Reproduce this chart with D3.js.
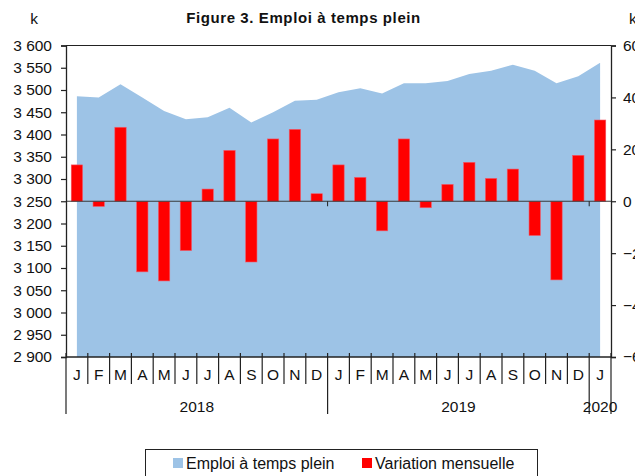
<!DOCTYPE html>
<html>
<head>
<meta charset="utf-8">
<script src="https://cdn.jsdelivr.net/npm/d3@7"></script>
<style>
  body { margin: 0; background: #fff; }
  svg { font-family: "Liberation Sans", Arial, sans-serif; }
</style>
</head>
<body>
<svg id="chart" width="635" height="476"></svg>
<script>
// monthly data, Jan 2018 -> Jan 2020
var months = ["J","F","M","A","M","J","J","A","S","O","N","D",
              "J","F","M","A","M","J","J","A","S","O","N","D","J"];
var years = ["2018", "2019", "2020"];
var yearCounts = [12, 12, 1];
var emploi = [3486, 3483, 3513, 3483, 3453, 3434, 3439, 3460, 3427, 3450, 3476, 3478,
              3495, 3504, 3492, 3515, 3515, 3520, 3536, 3543, 3557, 3543, 3515, 3531, 3561];
var variation = [14, -2, 28.5, -27.2, -30.7, -19, 4.7, 19.6, -23.4, 24, 27.7, 2.9,
                 14, 9.2, -11.4, 24, -2.5, 6.5, 15, 8.8, 12.4, -13.2, -30.3, 17.7, 31.3];
var leftTicks = d3.range(2900, 3601, 50);
var rightTicks = [-60, -40, -20, 0, 20, 40, 60];

var svg = d3.select("#chart");
var pLeft = 66, pRight = 611, pTop = 45.5, pBottom = 357;

var idx = d3.range(months.length);
var x = d3.scaleBand().domain(idx).range([pLeft, pRight]);
var xBar = d3.scaleBand().domain(idx).range([pLeft, pRight]).paddingInner(0.48).paddingOuter(0.24);
var yL = d3.scaleLinear().domain([2900, 3600]).range([pBottom, pTop]);
var yR = d3.scaleLinear().domain([-60, 60]).range([pBottom, pTop]);

var fr = d3.formatLocale({decimal: ",", thousands: "\u00a0", grouping: [3], currency: ["", " €"]});
var fmt = fr.format(",");

// area
var area = d3.area()
    .x(function(d, i) { return x(i) + x.bandwidth() / 2; })
    .y0(pBottom)
    .y1(function(d) { return yL(d); });

svg.append("path")
    .datum(emploi)
    .attr("d", area)
    .attr("fill", "#9dc3e6");

// bars
svg.selectAll(".bar")
    .data(variation)
    .enter().append("rect")
    .attr("class", "bar")
    .attr("x", function(d, i) { return xBar(i); })
    .attr("width", xBar.bandwidth())
    .attr("y", function(d) { return yR(Math.max(0, d)); })
    .attr("height", function(d) { return Math.abs(yR(d) - yR(0)); })
    .attr("fill", "#ff0000")
    .attr("stroke", "#f05a6a")
    .attr("stroke-width", 0.6);

// zero line with year ticks
svg.append("line")
    .attr("x1", pLeft).attr("x2", pRight)
    .attr("y1", yR(0)).attr("y2", yR(0))
    .attr("stroke", "#3a3a3a").attr("stroke-width", 1.2);

var yearStarts = [];
var acc = 0;
yearCounts.forEach(function(c) { yearStarts.push(acc); acc += c; });

svg.selectAll(".ztick")
    .data(yearStarts.slice(1))
    .enter().append("line")
    .attr("x1", function(d) { return x(d); })
    .attr("x2", function(d) { return x(d); })
    .attr("y1", yR(0)).attr("y2", yR(0) + 5)
    .attr("stroke", "#222");

// frame top
svg.append("line")
    .attr("x1", pLeft).attr("x2", pRight)
    .attr("y1", pTop).attr("y2", pTop)
    .attr("stroke", "#222").attr("stroke-width", 1);

// left axis
var gL = svg.append("g")
    .attr("transform", "translate(" + pLeft + ",0)")
    .call(d3.axisLeft(yL).tickValues(leftTicks).tickSize(5).tickPadding(9).tickFormat(fmt));

// right axis
var gR = svg.append("g")
    .attr("transform", "translate(" + pRight + ",0)")
    .call(d3.axisRight(yR).tickValues(rightTicks).tickSize(5).tickPadding(7));

[gL, gR].forEach(function(g) {
  g.select(".domain").attr("stroke", "#222").attr("stroke-width", 1.3);
  g.selectAll(".tick line").attr("stroke", "#222").attr("stroke-width", 1.2);
  g.selectAll("text").attr("font-size", 15.5).attr("fill", "#111").attr("font-family", "Liberation Sans, Arial, sans-serif");
});

// bottom axis
svg.append("line")
    .attr("x1", pLeft).attr("x2", pRight)
    .attr("y1", pBottom).attr("y2", pBottom)
    .attr("stroke", "#222").attr("stroke-width", 1.3);

var bounds = d3.range(months.length + 1);
svg.selectAll(".mtick")
    .data(bounds)
    .enter().append("line")
    .attr("x1", function(d) { return pLeft + d * x.step(); })
    .attr("x2", function(d) { return pLeft + d * x.step(); })
    .attr("y1", pBottom - 4)
    .attr("y2", function(d) {
      return (yearStarts.indexOf(d) >= 0 || d === months.length) ? 414 : 384;
    })
    .attr("stroke", "#222").attr("stroke-width", 1.2);

svg.selectAll(".mlab")
    .data(months)
    .enter().append("text")
    .attr("x", function(d, i) { return x(i) + x.bandwidth() / 2; })
    .attr("y", 380)
    .attr("text-anchor", "middle")
    .attr("font-size", 15.5)
    .attr("fill", "#111")
    .text(function(d) { return d; });

svg.selectAll(".ylab")
    .data(years)
    .enter().append("text")
    .attr("x", function(d, i) { return pLeft + (yearStarts[i] + yearCounts[i] / 2) * x.step(); })
    .attr("y", 412)
    .attr("text-anchor", "middle")
    .attr("font-size", 15.5)
    .attr("fill", "#111")
    .text(function(d) { return d; });

// units and title
svg.append("text").attr("x", 34).attr("y", 24).attr("text-anchor", "middle")
    .attr("font-size", 15.5).attr("fill", "#111").text("k");
svg.append("text").attr("x", 629).attr("y", 24)
    .attr("font-size", 15.5).attr("fill", "#111").text("k");
svg.append("text").attr("x", 303.5).attr("y", 23).attr("text-anchor", "middle")
    .attr("font-size", 15).attr("font-weight", "bold").attr("letter-spacing", 0.6).attr("fill", "#111")
    .text("Figure 3. Emploi à temps plein");

// legend
var lg = svg.append("g");
lg.append("rect").attr("x", 145.5).attr("y", 449.5).attr("width", 392).attr("height", 40)
    .attr("fill", "none").attr("stroke", "#222").attr("stroke-width", 1);
var items = [{label: "Emploi à temps plein", color: "#9dc3e6", x: 173},
             {label: "Variation mensuelle", color: "#ff0000", x: 362}];
items.forEach(function(it) {
  lg.append("rect").attr("x", it.x).attr("y", 458).attr("width", 10).attr("height", 10).attr("fill", it.color);
  lg.append("text").attr("x", it.x + 13).attr("y", 469).attr("font-size", 16).attr("fill", "#111").text(it.label);
});
</script>
</body>
</html>
